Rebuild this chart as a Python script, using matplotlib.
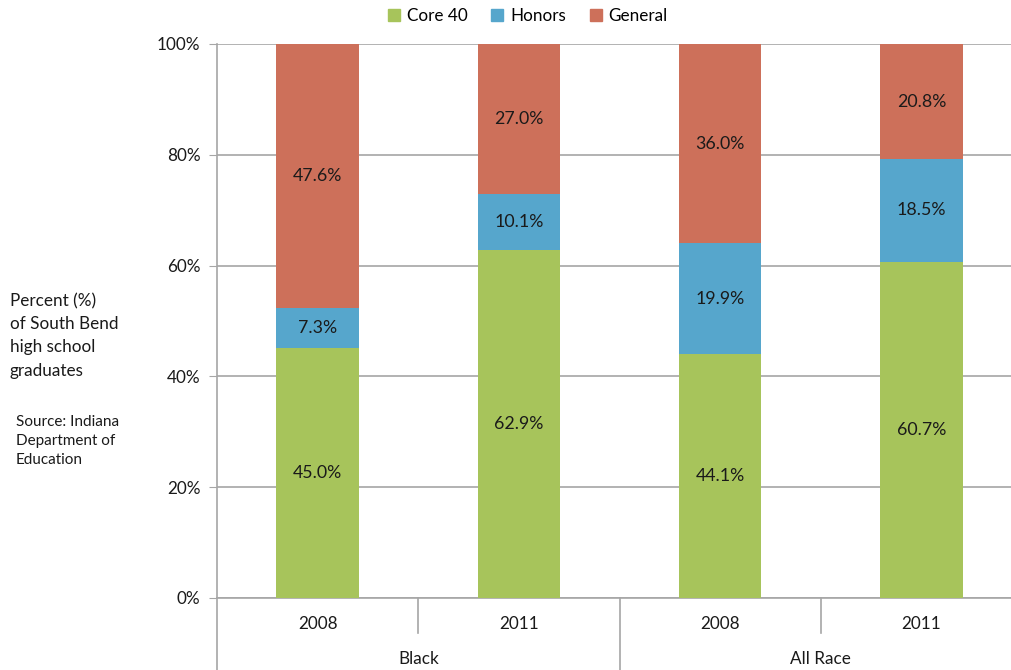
import matplotlib
matplotlib.use("Agg")
import matplotlib.pyplot as plt
import numpy as np
from matplotlib.patches import Patch

plt.rcParams["font.family"] = ["Lato", "DejaVu Sans"]

groups = ["Black", "All Race"]
years = ["2008", "2011", "2008", "2011"]
core40 = [45.0, 62.9, 44.1, 60.7]
honors = [7.3, 10.1, 19.9, 18.5]
general = [47.6, 27.0, 36.0, 20.8]

GREEN = "#A7C45B"
BLUE = "#56A6CC"
RED = "#CD705A"
GRID = "#A6A6A6"

fig = plt.figure(figsize=(10.11, 6.70), dpi=100)
ax = fig.add_axes([217 / 1011, 72 / 670, 805 / 1011, 554 / 670])

vals = np.array([core40, honors, general])
pct = vals / vals.sum(axis=0) * 100
x = np.arange(len(years))
width = 0.41
bottom = np.zeros(len(years))
for row, raw, color in zip(pct, vals, [GREEN, BLUE, RED]):
    ax.bar(x, row, width, bottom=bottom, color=color, zorder=3)
    for xi, b, h, r in zip(x, bottom, row, raw):
        ax.text(xi, b + h / 2, f"{r:.1f}%", ha="center", va="center",
                fontsize=12.8, color="#1a1a1a", zorder=4)
    bottom += row

ax.set_xlim(-0.5, len(years) - 0.5)
ax.set_ylim(0, 100)
ax.set_yticks(np.arange(0, 101, 20))
ax.set_yticklabels([f"{v}%" for v in range(0, 101, 20)], fontsize=12.3, color="#1a1a1a")
ax.yaxis.grid(True, color=GRID, linewidth=1.2, zorder=0)
ax.tick_params(axis="y", length=6, color=GRID, pad=6)
ax.set_xticks([])
for side in ["top", "right"]:
    ax.spines[side].set_visible(False)
ax.spines["left"].set_color(GRID)
ax.spines["bottom"].set_color(GRID)
ax.spines["left"].set_linewidth(1.2)
ax.spines["bottom"].set_linewidth(1.2)

# category axis: years and group labels with divider lines
trans = ax.get_xaxis_transform()
for xi, yr in zip(x, years):
    ax.text(xi, -0.047, yr, transform=trans, ha="center", va="center",
            fontsize=12.3, color="#1a1a1a")
for gi, g in enumerate(groups):
    ax.text(2 * gi + 0.5, -0.11, g, transform=trans, ha="center", va="center",
            fontsize=12.3, color="#1a1a1a")
for xd, depth in [(-0.5, 0.13), (0.5, 0.064), (1.5, 0.13), (2.5, 0.064)]:
    ax.plot([xd, xd], [0, -depth], transform=trans, color=GRID, lw=1.2, clip_on=False)

handles = [Patch(color=c) for c in [GREEN, BLUE, RED]]
fig.legend(handles, ["Core 40", "Honors", "General"], loc="center",
           bbox_to_anchor=(528 / 1011, 1 - 16 / 670), ncol=3, frameon=False,
           fontsize=12.3, handlelength=0.7, handleheight=0.7, handletextpad=0.4,
           columnspacing=1.4)

fig.text(10 / 1011, 1 - 293 / 670, "Percent (%)\nof South Bend\nhigh school\ngraduates",
         ha="left", va="top", fontsize=12.3, color="#1a1a1a", linespacing=1.55)
fig.text(16 / 1011, 1 - 415 / 670, "Source: Indiana\nDepartment of\nEducation",
         ha="left", va="top", fontsize=11, color="#1a1a1a", linespacing=1.45)

fig.savefig("out.png", dpi=100)
